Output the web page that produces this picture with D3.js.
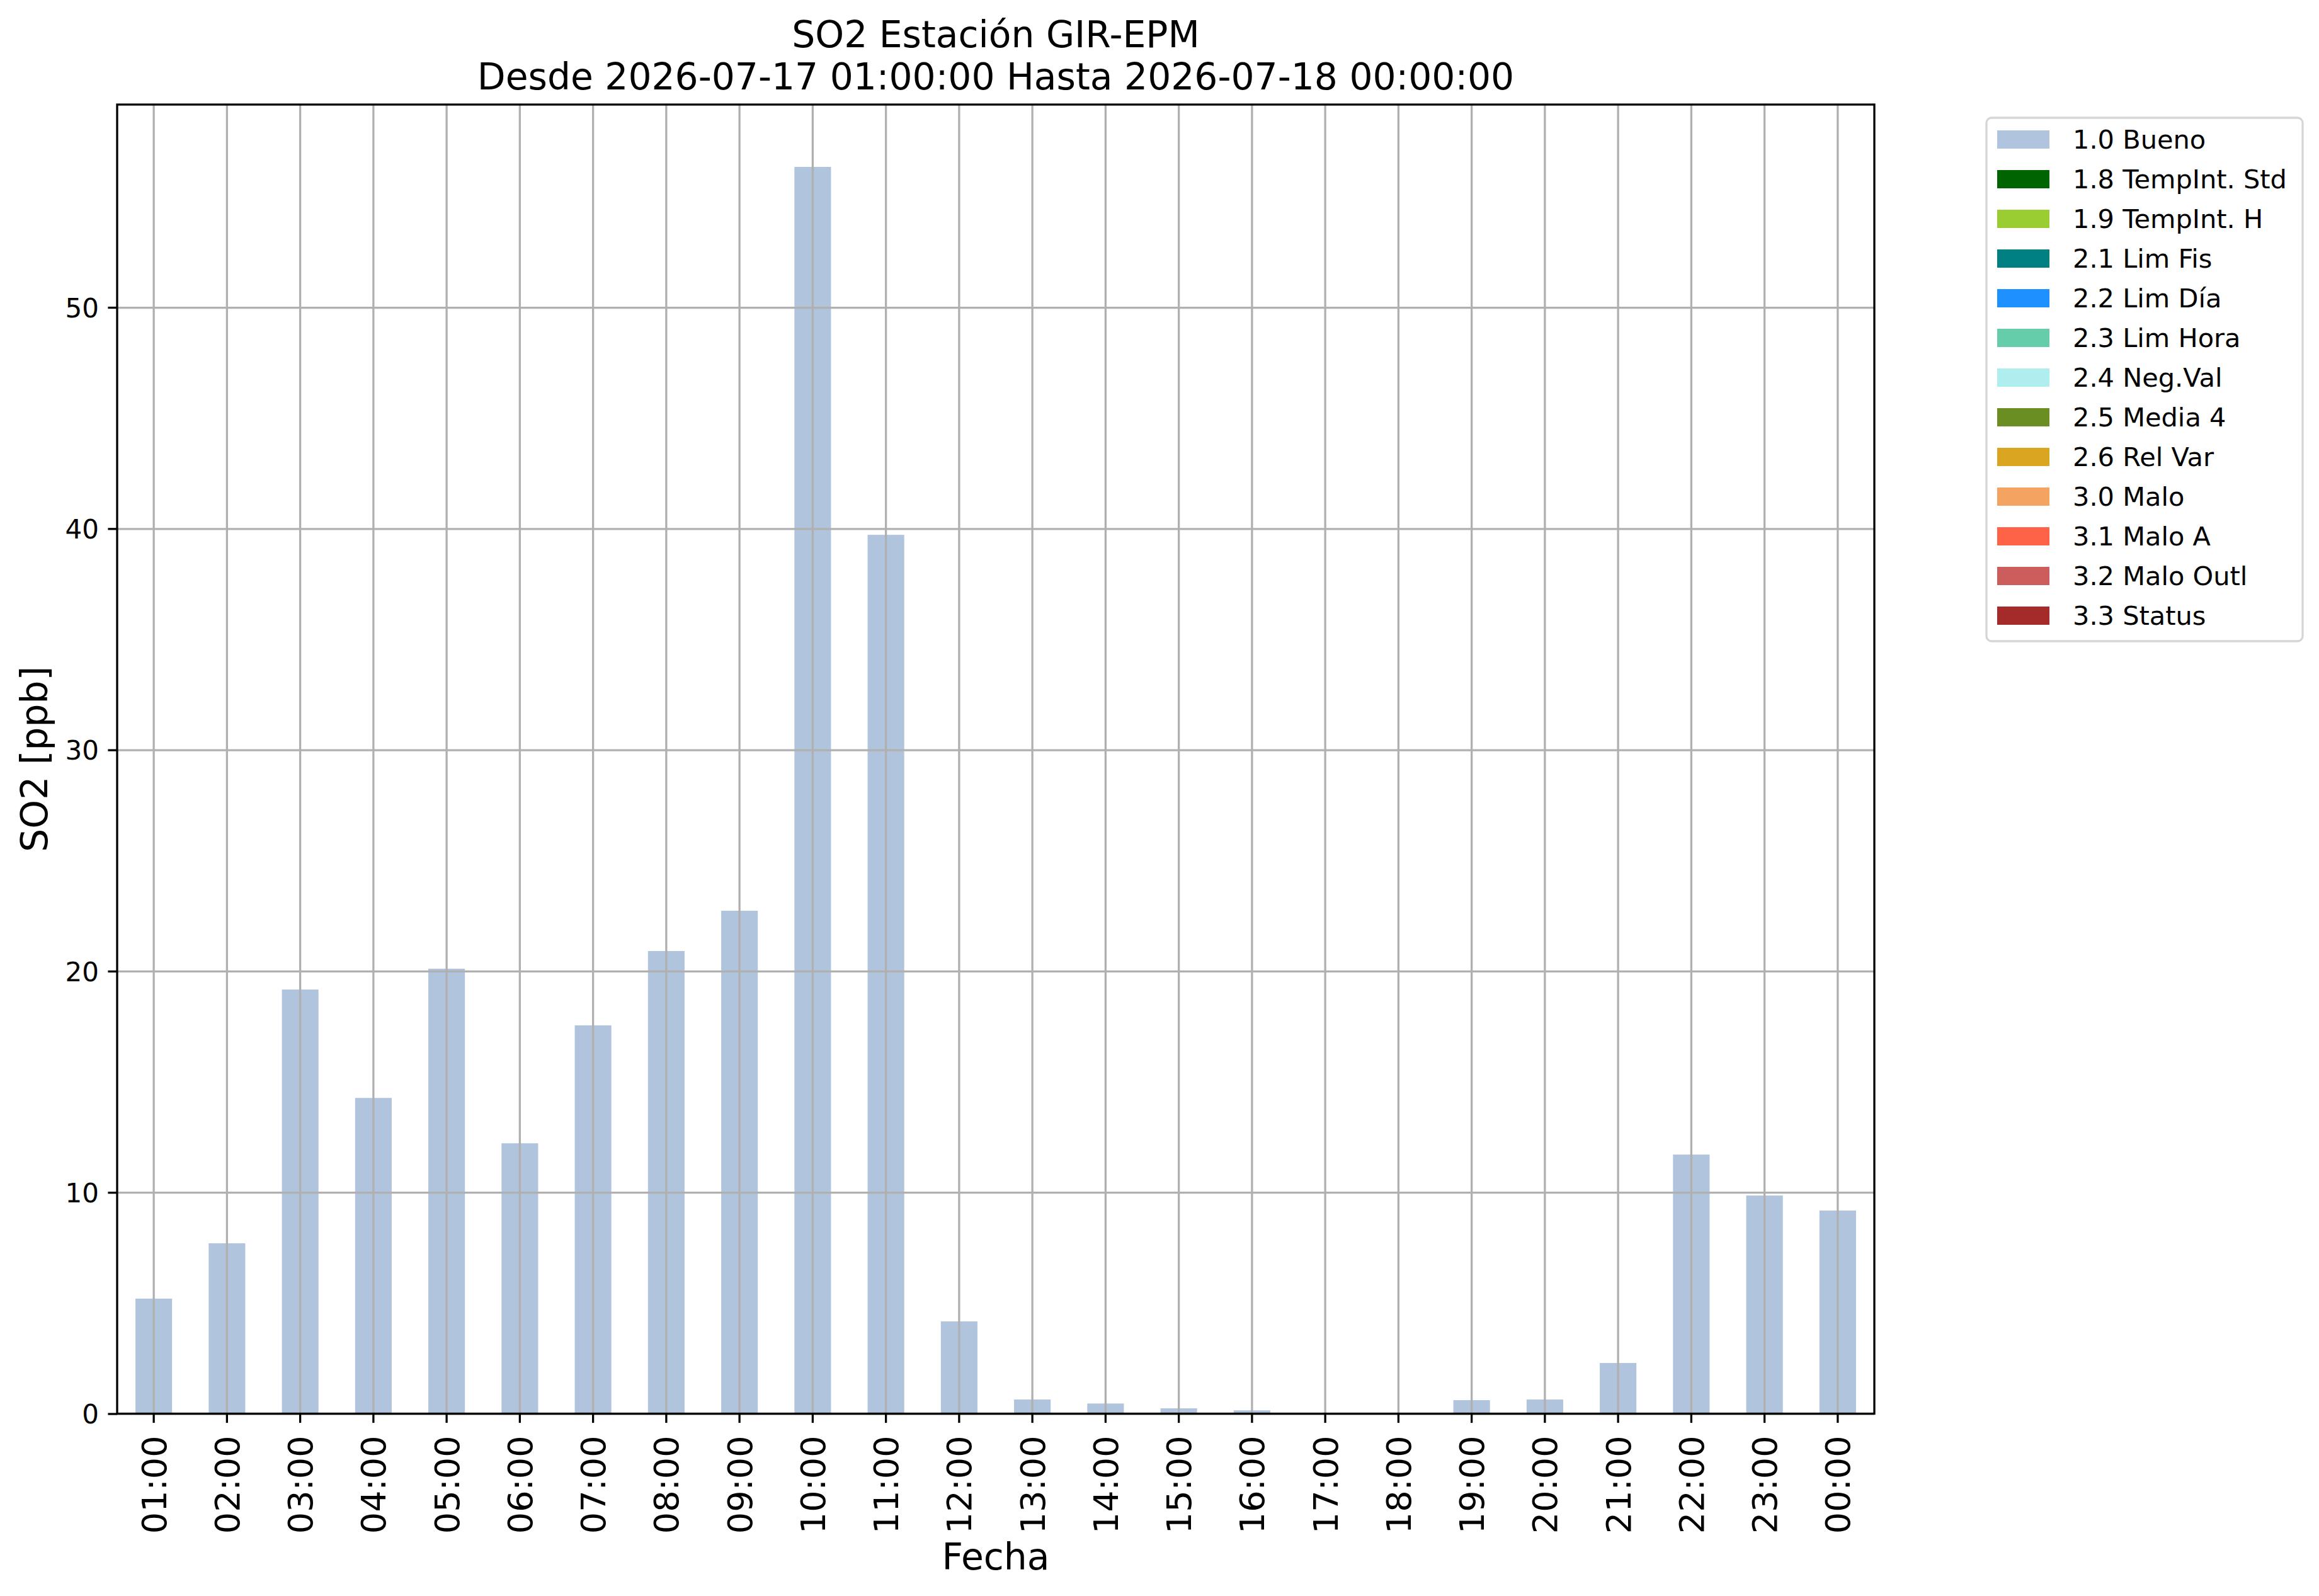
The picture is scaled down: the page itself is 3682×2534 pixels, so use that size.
<!DOCTYPE html>
<html>
<head>
<meta charset="utf-8">
<script src="https://cdn.jsdelivr.net/npm/d3@7"></script>
<style>
  body { margin: 0; background: #fff; }
  text { font-family: "DejaVu Sans", sans-serif; fill: #000; }
</style>
</head>
<body>
<script>
// data
const hours = ['01:00', '02:00', '03:00', '04:00', '05:00', '06:00', '07:00', '08:00',
  '09:00', '10:00', '11:00', '12:00', '13:00', '14:00', '15:00', '16:00',
  '17:00', '18:00', '19:00', '20:00', '21:00', '22:00', '23:00', '00:00']
const bueno = [5.2, 7.7, 19.17, 14.27, 20.11, 12.22, 17.55, 20.91,
  22.73, 56.35, 39.72, 4.17, 0.64, 0.46, 0.24, 0.15,
  0, 0, 0.61, 0.64, 2.29, 11.71, 9.86, 9.18]
const yTicks = [0, 10, 20, 30, 40, 50]
const flagLabels = ['1.0 Bueno', '1.8 TempInt. Std', '1.9 TempInt. H', '2.1 Lim Fis',
  '2.2 Lim Día', '2.3 Lim Hora', '2.4 Neg.Val', '2.5 Media 4', '2.6 Rel Var',
  '3.0 Malo', '3.1 Malo A', '3.2 Malo Outl', '3.3 Status']
const flagColors = ['lightsteelblue', 'darkgreen', 'yellowgreen', 'teal',
  'dodgerblue', 'mediumaquamarine', 'paleturquoise', 'olivedrab', 'goldenrod',
  'sandybrown', 'tomato', 'indianred', 'brown']
const title1 = 'SO2 Estación GIR-EPM'
const title2 = 'Desde 2026-07-17 01:00:00 Hasta 2026-07-18 00:00:00'

const W = 3682, H = 2534
const m = { left: 186, right: 2976, top: 166, bottom: 2244.5 }
const lw = 3.3, tickLen = 14.6

const svg = d3.select('body')
    .append('svg')
    .attr('width', W)
    .attr('height', H)

const x = d3.scaleBand()
    .domain(hours)
    .range([m.left, m.right])
    .paddingInner(0.5)
    .paddingOuter(0.25)
const xc = d => x(d) + x.bandwidth() / 2

const y = d3.scaleLinear()
    .domain([0, d3.max(bueno) * 1.05])
    .range([m.bottom, m.top])

// bars
svg.append('g')
    .selectAll('rect')
    .data(hours)
    .enter()
    .append('rect')
    .attr('x', d => x(d))
    .attr('y', (d, i) => y(bueno[i]))
    .attr('width', x.bandwidth())
    .attr('height', (d, i) => y(0) - y(bueno[i]))
    .attr('fill', flagColors[0])

// grid on top of the bars, like matplotlib
const gridX = svg.append('g')
    .attr('transform', `translate(0,${m.bottom})`)
    .call(d3.axisBottom(x).tickSize(-(m.bottom - m.top)).tickFormat(''))
gridX.selectAll('.tick').attr('transform', d => `translate(${xc(d)},0)`)
gridX.select('.domain').remove()
gridX.selectAll('line').attr('stroke', '#b0b0b0').attr('stroke-width', lw)

const gridY = svg.append('g')
    .attr('transform', `translate(${m.left},0)`)
    .call(d3.axisLeft(y).tickValues(yTicks).tickSize(-(m.right - m.left)).tickFormat(''))
gridY.select('.domain').remove()
gridY.selectAll('line').attr('stroke', '#b0b0b0').attr('stroke-width', lw)

// spines
svg.append('rect')
    .attr('x', m.left)
    .attr('y', m.top)
    .attr('width', m.right - m.left)
    .attr('height', m.bottom - m.top)
    .attr('fill', 'none')
    .attr('stroke', '#000')
    .attr('stroke-width', lw)

// y axis
const yAxis = svg.append('g')
    .attr('transform', `translate(${m.left},0)`)
    .call(d3.axisLeft(y).tickValues(yTicks).tickSize(tickLen).tickPadding(14.5))
yAxis.select('.domain').remove()
yAxis.selectAll('line').attr('stroke', '#000').attr('stroke-width', lw)
yAxis.selectAll('text')
    .attr('font-size', 42)
    .attr('font-family', '"DejaVu Sans", sans-serif')
    .attr('dy', '0.36em')

// x axis
const xAxis = svg.append('g')
    .attr('transform', `translate(0,${m.bottom})`)
    .call(d3.axisBottom(x).tickSize(tickLen))
xAxis.selectAll('.tick').attr('transform', d => `translate(${xc(d)},0)`)
xAxis.select('.domain').remove()
xAxis.selectAll('line').attr('stroke', '#000').attr('stroke-width', lw)
xAxis.selectAll('text')
    .attr('font-size', 54)
    .attr('font-family', '"DejaVu Sans", sans-serif')
    .attr('text-anchor', 'end')
    .attr('transform', 'rotate(-90)')
    .attr('x', -35)
    .attr('y', 0)
    .attr('dy', '0.36em')

// titles and axis labels
const cx = (m.left + m.right) / 2
svg.append('text')
    .attr('x', cx)
    .attr('y', 75)
    .attr('text-anchor', 'middle')
    .attr('font-size', 58.3)
    .text(title1)
svg.append('text')
    .attr('x', cx)
    .attr('y', 142)
    .attr('text-anchor', 'middle')
    .attr('font-size', 58.3)
    .text(title2)
svg.append('text')
    .attr('x', cx)
    .attr('y', 2492)
    .attr('text-anchor', 'middle')
    .attr('font-size', 58.3)
    .text('Fecha')
svg.append('text')
    .attr('transform', `translate(75,${(m.top + m.bottom) / 2}) rotate(-90)`)
    .attr('text-anchor', 'middle')
    .attr('font-size', 58.3)
    .text('SO2 [ppb]')

// legend
const lg = svg.append('g')
lg.append('rect')
    .attr('x', 3154)
    .attr('y', 187)
    .attr('width', 502)
    .attr('height', 831)
    .attr('rx', 8)
    .attr('fill', '#fff')
    .attr('stroke', '#d6d6d6')
    .attr('stroke-width', 3.3)
const rows = lg.selectAll('g.row')
    .data(flagLabels)
    .enter()
    .append('g')
    .attr('class', 'row')
    .attr('transform', (d, i) => `translate(0,${63 * i})`)
rows.append('rect')
    .attr('x', 3171)
    .attr('y', 207)
    .attr('width', 83)
    .attr('height', 29)
    .attr('fill', (d, i) => flagColors[i])
rows.append('text')
    .attr('x', 3291)
    .attr('y', 236)
    .attr('font-size', 41.5)
    .text(d => d)
</script>
</body>
</html>
